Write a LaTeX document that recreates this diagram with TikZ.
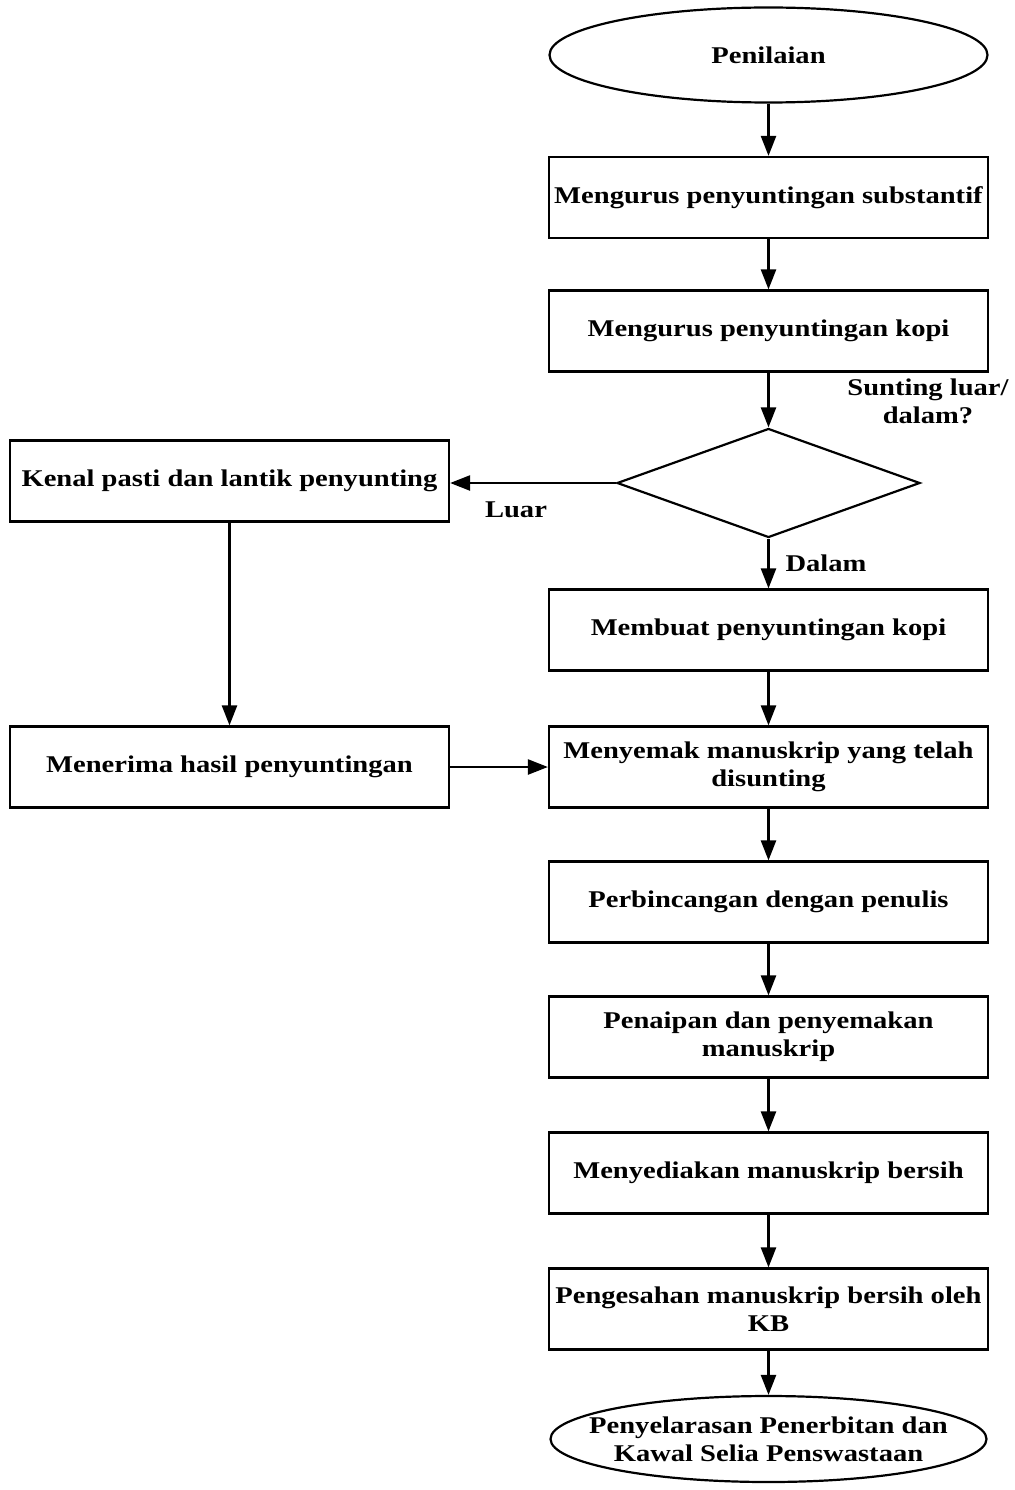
\documentclass[tikz,border=0pt]{standalone}
\usepackage{fontspec}
\setmainfont{Liberation Serif}[FakeStretch=1.19]
\usetikzlibrary{shapes.geometric,arrows.meta}

\begin{document}
\begin{tikzpicture}[x=1bp,y=-1bp,
  every node/.style={font=\fontsize{24bp}{28bp}\selectfont\bfseries},
  stepbox/.style={draw, line width=2.2bp, minimum width=439bp, minimum height=81bp, inner sep=0pt, align=center},
  terminal/.style={draw, ellipse, line width=2.2bp, inner sep=0pt},
  decision/.style={draw, diamond, line width=2.2bp, minimum width=303bp, minimum height=109bp, inner sep=0pt},
  flow/.style={line width=2.4bp, -{Triangle[length=20bp,width=15bp]}},
  lbl/.style={inner sep=0pt, align=center}
]
\useasboundingbox (0,0) rectangle (1014,1490);

% main column
\node[terminal, minimum width=438bp, minimum height=95bp] (start) at (768.5,55) {Penilaian};
\node[stepbox] (sub) at (768.5,197.5) {Mengurus penyuntingan substantif};
\node[stepbox] (kopi) at (768.5,331) {Mengurus penyuntingan kopi};
\node[decision] (dec) at (768.5,483) {};
\node[lbl] (soal) at (928,401) {Sunting luar/\\dalam?};
\node[stepbox] (buat) at (768.5,630) {Membuat penyuntingan kopi};
\node[stepbox] (semak) at (768.5,767) {Menyemak manuskrip yang telah\\disunting};
\node[stepbox] (bincang) at (768.5,902) {Perbincangan dengan penulis};
\node[stepbox] (taip) at (768.5,1037) {Penaipan dan penyemakan\\manuskrip};
\node[stepbox] (bersih) at (768.5,1173) {Menyediakan manuskrip bersih};
\node[stepbox] (sah) at (768.5,1309) {Pengesahan manuskrip bersih oleh\\KB};
\node[terminal, minimum width=436bp, minimum height=86bp] (end) at (768.5,1439) {};
\node[lbl] (endtext) at (end.center) {Penyelarasan Penerbitan dan\\Kawal Selia Penswastaan};

% external editing branch
\node[stepbox] (kenal) at (229.5,481) {Kenal pasti dan lantik penyunting};
\node[stepbox] (terima) at (229.5,767) {Menerima hasil penyuntingan};

% branch labels
\node[lbl] (luar) at (516,510) {Luar};
\node[lbl] (dalam) at (826,563) {Dalam};

% connectors
\draw[flow] (start) -- (sub);
\draw[flow] (sub) -- (kopi);
\draw[flow] (kopi) -- (dec);
\draw[flow] (dec.west) -- (dec.west -| kenal.east);
\draw[flow] (dec) -- (buat);
\draw[flow] (kenal) -- (terima);
\draw[flow] (terima) -- (semak);
\draw[flow] (buat) -- (semak);
\draw[flow] (semak) -- (bincang);
\draw[flow] (bincang) -- (taip);
\draw[flow] (taip) -- (bersih);
\draw[flow] (bersih) -- (sah);
\draw[flow] (sah) -- (end);
\end{tikzpicture}
\end{document}
